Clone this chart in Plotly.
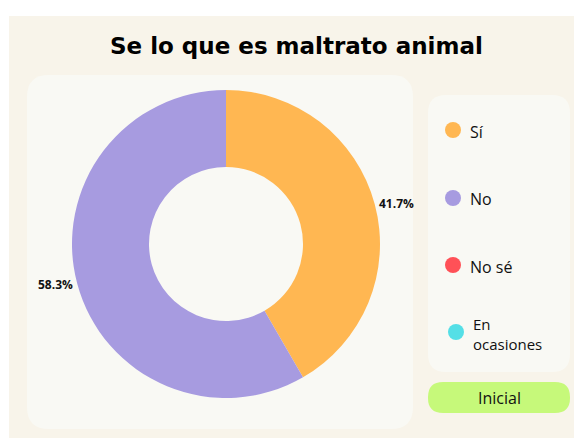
import plotly.graph_objects as go

W, H = 574, 441

title_text = "Se lo que es maltrato animal"
categories = ["Sí", "No", "No sé", "En ocasiones"]
legend_labels = ["Sí", "No", "No sé", "En<br>ocasiones"]
values = [5, 7, 0, 0]
colors = ["#FFB752", "#A79BE0", "#FF5157", "#55DFE6"]
button_label = "Inicial"

total = sum(values)
texts = [f"{v / total * 100:.1f}%" if v else "" for v in values]


def px(x, y):
    """screen pixel -> paper coords"""
    return x / W, 1 - y / H


def rrect(x0, y0, x1, y1, r):
    def p(x, y):
        a, b = px(x, y)
        return f"{a:.5f},{b:.5f}"
    return (f"M {p(x0 + r, y0)} L {p(x1 - r, y0)} Q {p(x1, y0)} {p(x1, y0 + r)} "
            f"L {p(x1, y1 - r)} Q {p(x1, y1)} {p(x1 - r, y1)} "
            f"L {p(x0 + r, y1)} Q {p(x0, y1)} {p(x0, y1 - r)} "
            f"L {p(x0, y0 + r)} Q {p(x0, y0)} {p(x0 + r, y0)} Z")


fig = go.Figure()

cx, cy, R = 226, 244, 154
dx0, dy1 = px(cx - R, cy - R)
dx1, dy0 = px(cx + R, cy + R)
fig.add_trace(go.Pie(
    labels=categories,
    values=values,
    text=texts,
    textinfo="text",
    textposition="outside",
    hole=0.5,
    sort=False,
    direction="clockwise",
    rotation=0,
    showlegend=False,
    marker=dict(colors=colors, line=dict(width=0)),
    outsidetextfont=dict(family="Open Sans", size=12, color="#111111", weight="bold"),
    domain=dict(x=[dx0, dx1], y=[dy0, dy1]),
))


def rect_shape(path, color):
    return dict(type="path", xref="paper", yref="paper", path=path,
                fillcolor=color, line=dict(width=0), layer="below")


bx0, by1 = px(9, 16)
bx1, by0 = px(574, 438)
shapes = [
    dict(type="rect", xref="paper", yref="paper", x0=bx0, x1=bx1, y0=by0, y1=by1,
         fillcolor="#F8F4EA", line=dict(width=0), layer="below"),
    rect_shape(rrect(27, 75, 413, 429, 22), "#F9F9F4"),
    rect_shape(rrect(428, 95, 570, 372, 18), "#F9F9F4"),
    rect_shape(rrect(428, 382, 570, 413, 15), "#C6F97A"),
]

tx, ty = px(296, 46)
bxt, byt = px(499, 398)
annotations = [
    dict(text=f"<b>{title_text}</b>", x=tx, y=ty, xref="paper", yref="paper",
         showarrow=False, xanchor="center", yanchor="middle",
         font=dict(family="DejaVu Sans", size=23, color="#000000")),
    dict(text=button_label, x=bxt, y=byt, xref="paper", yref="paper",
         showarrow=False, xanchor="center", yanchor="middle",
         font=dict(family="Open Sans", size=16, color="#111111")),
]

circ_y = [130, 198, 265, 332]
circ_x = [453, 453, 453, 456]
text_x = [468, 468, 468, 471]
text_y = [132, 199, 267, 334]
for i, lab in enumerate(legend_labels):
    lx, ly = circ_x[i], circ_y[i]
    x0, y1 = px(lx - 8, ly - 8)
    x1, y0 = px(lx + 8, ly + 8)
    shapes.append(dict(type="circle", xref="paper", yref="paper", x0=x0, x1=x1, y0=y0, y1=y1,
                       fillcolor=colors[i], line=dict(width=0)))
    ax, ay = px(text_x[i], text_y[i])
    annotations.append(dict(text=lab, x=ax, y=ay, xref="paper", yref="paper",
                            showarrow=False, xanchor="left", yanchor="middle", align="left",
                            font=dict(family="Open Sans", size=15 if "<br>" in lab else 16,
                                      color="#111111")))

fig.update_layout(
    width=W, height=H,
    margin=dict(l=0, r=0, t=0, b=0),
    paper_bgcolor="#FFFFFF",
    plot_bgcolor="#FFFFFF",
    shapes=shapes,
    annotations=annotations,
)

fig.write_html(
    "out.html",
    config={"displayModeBar": False},
    post_script="document.body.style.margin='0';document.body.style.overflow='hidden';",
)
